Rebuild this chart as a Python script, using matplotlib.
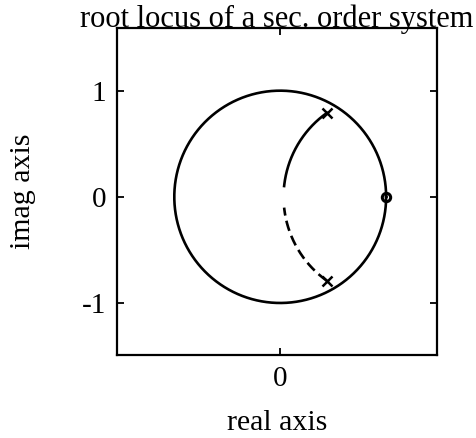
import numpy as np
import matplotlib
matplotlib.use("Agg")
import matplotlib.pyplot as plt

# open-loop poles / zero of the second order system
pole = complex(0.44, 0.79)
zero = 1.0
# gain sweep for the locus (stops just short of the break-in point)
gains = np.linspace(0.0, 0.806, 200)

plt.rcParams['font.family'] = ['Liberation Serif', 'DejaVu Serif']
plt.rcParams['font.size'] = 21

# closed-loop roots of (z - p)(z - p*) + K (z - 1) = 0
den = np.poly([pole, pole.conjugate()]).real
num = np.poly([zero]).real
upper, lower = [], []
for k in gains:
    char = den + k * np.concatenate(([0.0], num))
    r = np.roots(char)
    r = r[np.argsort(r.imag)]
    lower.append(r[0])
    upper.append(r[-1])
upper = np.array(upper)
lower = np.array(lower)

theta = np.linspace(0, 2 * np.pi, 400)

fig = plt.figure(figsize=(4.76, 4.38), dpi=100)
ax = fig.add_axes([0.246, 0.1895, 0.672, 0.7465])

ax.plot(np.cos(theta), np.sin(theta), color='black', lw=1.9)
ax.plot(upper.real, upper.imag, color='black', lw=1.9)
ax.plot(lower.real, lower.imag, color='black', lw=1.9, ls=(0, (4, 2)))
ax.plot([pole.real, pole.real], [pole.imag, -pole.imag], 'x', color='black',
        ms=7.5, mew=1.8)
ax.plot([zero], [0], 'o', mfc='none', mec='black', ms=6, mew=2.2)

ax.set_xlim(-1.54, 1.48)
ax.set_ylim(-1.49, 1.59)
ax.set_xticks([0])
ax.set_yticks([-1, 0, 1])
ax.set_yticklabels(['-1', '0', '1'])
ax.tick_params(direction='in', length=5, width=1.3, top=True, right=True,
               pad=8, labelsize=21)
for s in ax.spines.values():
    s.set_linewidth(1.6)

ax.set_title('root locus of a sec. order system', fontsize=22, pad=1)
ax.set_xlabel('real axis', fontsize=21.5, labelpad=13)
ax.set_ylabel('imag axis', fontsize=21.5, labelpad=33)

fig.savefig('out.png', dpi=100)
